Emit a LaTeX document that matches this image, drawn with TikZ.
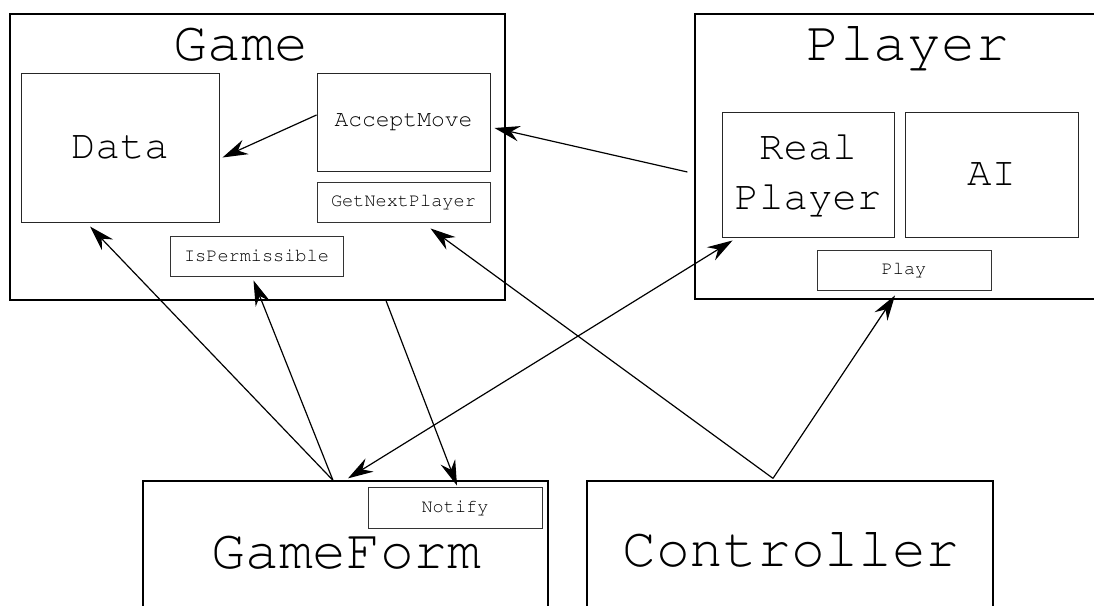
\documentclass[tikz,border=0pt]{standalone}
\usepackage[T1]{fontenc}
\usepackage{tikz}
\usetikzlibrary{arrows.meta, calc}

\newcommand{\classfont}{\fontfamily{pcr}\fontsize{40}{48}\selectfont}
\newcommand{\partfont}{\fontfamily{pcr}\fontsize{29}{35}\selectfont}
\newcommand{\methfont}{\fontfamily{pcr}\fontsize{13.2}{16}\selectfont}

\begin{document}
\begin{tikzpicture}[x=0.025cm, y=-0.025cm,
    >={Stealth[length=18pt, width=11pt, inset=6pt]},
    wh/.style 2 args={minimum width=#1*0.025cm, minimum height=#2*0.025cm},
    outer/.style={draw, line width=0.9pt, inner sep=0pt},
    part/.style={draw=black!85, line width=0.7pt, inner sep=0pt, font=\partfont},
    meth/.style={draw=black!80, line width=0.6pt, inner sep=0pt, font=\methfont},
    call/.style={->, line width=0.85pt}]
  \useasboundingbox (0,0) rectangle (1094,606);
  \clip (0,0) rectangle (1094,606);

  % Game and its parts
  \node[outer, wh={495}{286}] (game) at (257.5,157) {};
  \node[anchor=base, font=\classfont] (gametitle) at (241,60) {Game};
  \node[part, wh={198}{149}] (data) at (120,147.5) {Data};
  \node[part, wh={173}{98}, font=\fontfamily{pcr}\fontsize{16.3}{20}\selectfont]
    (accept) at (403.5,122) {AcceptMove};
  \node[meth, wh={173}{40}] (nextpl) at (403.5,202) {GetNextPlayer};
  \node[meth, wh={173}{40}] (permis) at (256.5,256) {IsPermissible};

  % Player and its parts
  \node[outer, wh={415}{285}] (player) at (902.5,156.5) {};
  \node[anchor=base, font=\classfont] (playertitle) at (907.5,60) {Player};
  \node[part, wh={172}{125}, align=center] (realpl) at (808,174.5) {Real\\Player};
  \node[part, wh={173}{125}] (ai) at (991.5,174.5) {AI};
  \node[meth, wh={174}{40}] (play) at (904,270) {Play};

  % the two bottom classes
  \node[outer, wh={405}{159}] (gameform) at (345.5,560.5) {};
  \node[anchor=base, font=\classfont] (gameformtitle) at (346.5,568) {GameForm};
  \node[meth, wh={174}{41}] (notify) at (455,507.5) {Notify};
  \node[outer, wh={406}{159}] (controller) at (790,560.5) {};
  \node[anchor=base, font=\classfont] (controllertitle) at (791,566) {Controller};

  % where the calls leave their boxes
  \coordinate (gf-a) at ($(gameform.north)+(-12.5,0)$);
  \coordinate (gf-b) at ($(gameform.north)+(2.5,-2)$);
  \coordinate (ct-a) at ($(controller.north)+(-17,-2)$);
  \coordinate (pl-a) at ($(player.west)+(-7,15.5)$);
  \coordinate (gm-a) at ($(game.south)+(128.5,0)$);

  \draw[call] ($(accept.west)+(0,-7)$) -- ($(data.east)+(3,10)$);
  \draw[call] (pl-a) -- ($(accept.east)+(4,6)$);
  \draw[call] (gf-a) -- ($(data.south)+(-30,4)$);
  \draw[call] (gf-a) -- ($(permis.south)+(-3,4)$);
  \draw[call] (ct-a) -- ($(nextpl.south)+(27,6)$);
  \draw[call] (ct-a) -- ($(play.south)+(-9,5)$);
  \draw[call, <->] (gf-b) -- ($(realpl.south west)+(11,3)$);
  \draw[call] (gm-a) -- ($(notify.north)+(2,-1)$);
\end{tikzpicture}
\end{document}
